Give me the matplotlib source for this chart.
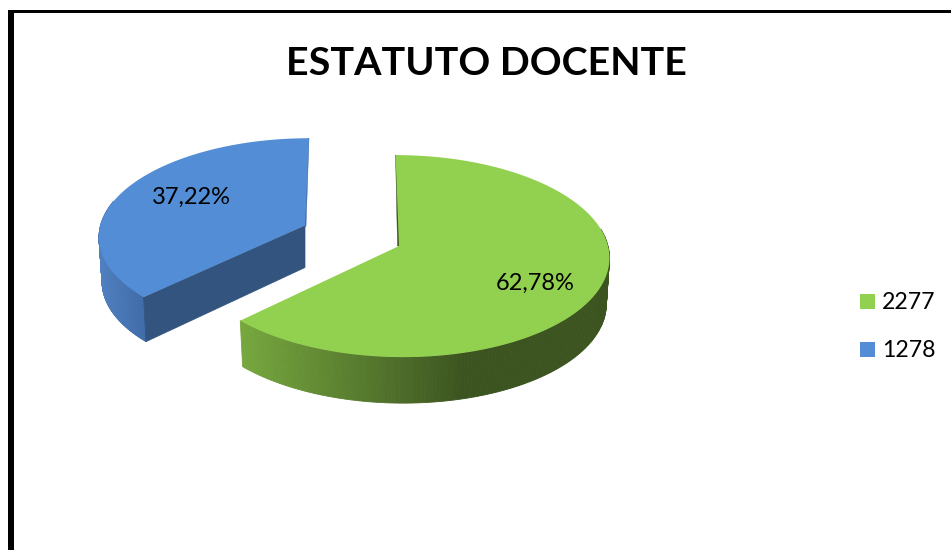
import numpy as np
import matplotlib
matplotlib.use("Agg")
import matplotlib.pyplot as plt

plt.rcParams['font.family'] = ['Lato', 'DejaVu Sans']

title = "ESTATUTO DOCENTE"
legend_labels = ["2277", "1278"]
shares = [62.78, 37.22]                 # percent, as printed on the slices
top_colors = ["#92d050", "#538dd5"]

K = 0.1             # fake perspective of the disc
SHRINK = 0.985      # lower rim is a bit narrower than upper rim

fig = plt.figure(figsize=(9.51, 5.5), dpi=100)
ax = fig.add_axes([0, 0, 1, 1])
ax.set_xlim(0, 951)
ax.set_ylim(550, 0)                     # pixel coords, y down
ax.axis('off')


def rim(cx, cy, rx, ry, skew, deg):
    t = np.radians(deg)
    w = 1 + K * np.sin(t)
    up = ry * np.sin(t) / w
    return cx + rx * np.cos(t) / w + skew * up, cy - up


def lower(cx, x, y, depth):
    return cx + (x - cx) * SHRINK, y + depth


def side(cx, cy, rx, ry, skew, depth, a0, a1, left_rgb, right_rgb, x0, x1):
    # outer wall as thin strips, colour goes with x
    angs = np.linspace(a0, a1, 160)
    for a, b in zip(angs[:-1], angs[1:]):
        xa, ya = rim(cx, cy, rx, ry, skew, a)
        xb, yb = rim(cx, cy, rx, ry, skew, b)
        xa2, ya2 = lower(cx, xa, ya, depth)
        xb2, yb2 = lower(cx, xb, yb, depth)
        f = np.clip((xa - x0) / (x1 - x0), 0, 1)
        col = (np.array(left_rgb) + f * (np.array(right_rgb) - np.array(left_rgb))) / 255
        ax.fill([xa, xb, xb2, xa2], [ya, yb, yb2, ya2], color=col, lw=0.6)


# slice angles come from the shares, clockwise from the top
end_green = 90 - shares[0] * 3.6
end_blue = end_green - shares[1] * 3.6

# blue slice (pulled out to the upper left)
bx, by, brx, bry, bskew = 305, 225.5, 204.5, 96, 0.046
side(bx, by, brx, bry, bskew, 44.5, end_green + 360, 165, (80, 128, 192), (64, 108, 168), 98, 145)
tx, ty = rim(bx, by, brx, bry, bskew, end_green)
tx2, ty2 = lower(bx, tx, ty, 44.5)
ax.fill([tx, bx, bx, tx2], [ty, by, by + 42, ty2], color="#32547e", lw=0.5)
sx, sy = rim(bx, by, brx, bry, bskew, 90)
ax.fill([sx, sx - 1, bx - 0.5, bx + 1], [sy, sy, by + 1, by + 1], color="#3f6ca8", lw=0.3)
angs = np.linspace(end_green + 360, end_blue + 360, 200)
xs, ys = rim(bx, by, brx, bry, bskew, angs)
ax.fill(np.r_[bx, xs], np.r_[by, ys], color=top_colors[1], lw=0)

# green slice
gx, gy, grx, gry, gskew = 399, 246, 209, 100, -0.038
side(gx, gy, grx, gry, gskew, 46, end_green, 10, (118, 167, 62), (60, 84, 32), 241, 463)
sx, sy = rim(gx, gy, grx, gry, gskew, 90)
ax.fill([sx, sx + 0.5, gx + 1, gx - 1.5], [sy, sy, gy, gy], color="#3c5520", lw=0.3)
angs = np.linspace(90, end_green, 300)
xs, ys = rim(gx, gy, grx, gry, gskew, angs)
ax.fill(np.r_[gx, xs], np.r_[gy, ys], color=top_colors[0], lw=0)

# labels on the slices
ax.text(535, 283.5, f"{shares[0]:.2f}%".replace('.', ','), fontsize=17, ha='center', va='center', color='black')
ax.text(191, 197.5, f"{shares[1]:.2f}%".replace('.', ','), fontsize=17, ha='center', va='center', color='black')

ax.text(486.5, 63.5, title, fontsize=28.4, fontweight='bold', ha='center', va='center', color='black')

# legend
for i, lab in enumerate(legend_labels):
    yc = 301.5 + i * 48
    ax.fill([860, 875, 875, 860], [yc - 7.5, yc - 7.5, yc + 7.5, yc + 7.5], color=top_colors[i], lw=0)
    ax.text(882, yc + 1, lab, fontsize=16.7, ha='left', va='center', color='black')

# slide frame, only top and left show
ax.fill([8, 13.5, 13.5, 8], [10, 10, 550, 550], color='black', lw=0)
ax.fill([8, 951, 951, 8], [10, 10, 13.2, 13.2], color='black', lw=0)

fig.savefig("out.png", dpi=100)
